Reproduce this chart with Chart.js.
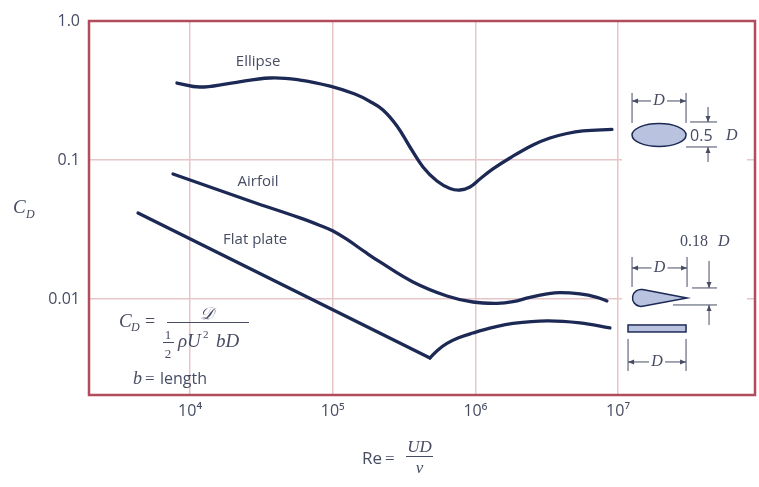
<!DOCTYPE html>
<html>
<head>
<meta charset="utf-8">
<script src="https://cdn.jsdelivr.net/npm/chart.js@4.4.1/dist/chart.umd.min.js"></script>
<style>
  html, body { margin: 0; padding: 0; background: #fff; }
  #wrap { width: 759px; height: 487px; }
</style>
</head>
<body>
<div id="wrap"><canvas id="cd-chart" width="759" height="487"></canvas></div>
<script>
// drag coefficient vs Reynolds number
const ellipseRe = [8.1e3, 1.17e4, 1.9e4, 3.64e4, 5.9e4, 9.6e4, 1.43e5, 1.826e5, 2.252e5, 2.822e5, 3.48e5, 4.293e5, 5.381e5, 6.637e5, 7.8e5, 9.167e5, 1.077e6, 1.328e6, 1.748e6, 2.533e6, 3.333e6, 4.385e6, 5.676e6, 9.065e6];
const ellipseCd = [0.358, 0.335, 0.356, 0.389, 0.376, 0.340, 0.298, 0.2636, 0.229, 0.1756, 0.124, 0.0891, 0.0706, 0.0624, 0.0608, 0.0639, 0.0730, 0.0862, 0.1034, 0.1282, 0.1439, 0.1551, 0.1617, 0.1658];

const airfoilRe = [7.6e3, 2.63e4, 5.9e4, 8.147e4, 1.005e5, 1.26e5, 1.684e5, 2.145e5, 3.653e5, 6.324e5, 9.621e5, 1.417e6, 1.834e6, 2.413e6, 3.176e6, 3.916e6, 5.408e6, 7.114e6, 8.359e6];
const airfoilCd = [0.0793, 0.0507, 0.0383, 0.0338, 0.03084, 0.02679, 0.02178, 0.01846, 0.01326, 0.01051, 0.00951, 0.00931, 0.00956, 0.01028, 0.01086, 0.0111, 0.01086, 0.01028, 0.00967];

// flat plate: laminar branch is straight, then a sharp turn at transition
const plateLamRe = [4.321e3, 4.806e5];
const plateLamCd = [0.04156, 0.003763];
const plateTurbRe = [4.806e5, 5.469e5, 6.324e5, 7.551e5, 9.621e5, 1.328e6, 1.834e6, 3.176e6, 5.408e6, 8.774e6];
const plateTurbCd = [0.003763, 0.004296, 0.004786, 0.005241, 0.005691, 0.006237, 0.006664, 0.006945, 0.00672, 0.006185];

const xTicks = [1e4, 1e5, 1e6, 1e7];
const xTickLabels = ['10⁴', '10⁵', '10⁶', '10⁷'];
const yTicks = [0.01, 0.1, 1];
const yTickLabels = ['0.01', '0.1', '1.0'];

const INK = '#1c2955';
const TEXT = '#474c63';
const GRID = '#e7c6ca';
const FRAME = '#b24c5c';
const SHAPE_FILL = '#b9c3df';
const SERIF = '"Liberation Serif", "DejaVu Serif", serif';
const SANS = '"Open Sans", "Noto Sans", sans-serif';

const toPoints = (xs, ys) => xs.map((x, i) => ({ x, y: ys[i] }));

const curve = (label, xs, ys, smooth) => ({
    label,
    data: toPoints(xs, ys),
    borderColor: INK,
    borderWidth: 3.3,
    pointRadius: 0,
    fill: false,
    tension: smooth ? 0.4 : 0,
    borderCapStyle: 'round',
    borderJoinStyle: 'round'
});

const text = (ctx, str, x, y, font, align = 'left', color = TEXT) => {
    ctx.font = font;
    ctx.fillStyle = color;
    ctx.textAlign = align;
    ctx.fillText(str, x, y);
};

const arrow = (ctx, x1, y1, x2, y2) => {
    const ang = Math.atan2(y2 - y1, x2 - x1);
    ctx.beginPath();
    ctx.moveTo(x1, y1);
    ctx.lineTo(x2, y2);
    ctx.stroke();
    ctx.beginPath();
    ctx.moveTo(x2, y2);
    ctx.lineTo(x2 - 6 * Math.cos(ang) + 2.5 * Math.sin(ang), y2 - 6 * Math.sin(ang) - 2.5 * Math.cos(ang));
    ctx.lineTo(x2 - 6 * Math.cos(ang) - 2.5 * Math.sin(ang), y2 - 6 * Math.sin(ang) + 2.5 * Math.cos(ang));
    ctx.closePath();
    ctx.fill();
};

// |<- D ->| dimension with extension lines
const dimD = (ctx, xl, xr, yArrow, yExtA, yExtB) => {
    ctx.beginPath();
    ctx.moveTo(xl, yExtA); ctx.lineTo(xl, yExtB);
    ctx.moveTo(xr, yExtA); ctx.lineTo(xr, yExtB);
    ctx.stroke();
    const mid = (xl + xr) / 2;
    arrow(ctx, mid - 8, yArrow, xl, yArrow);
    arrow(ctx, mid + 8, yArrow, xr, yArrow);
    ctx.textBaseline = 'middle';
    text(ctx, 'D', mid, yArrow, 'italic 16px ' + SERIF, 'center', TEXT);
    ctx.textBaseline = 'alphabetic';
};

const figureNotes = {
    id: 'figureNotes',
    beforeDatasetsDraw(chart) {
        // the shape sketches sit on a clear patch, grid does not run through them
        const { ctx, chartArea: a, scales: { x } } = chart;
        const x7 = x.getPixelForValue(1e7);
        ctx.save();
        ctx.fillStyle = '#fff';
        ctx.fillRect(x7 + 4, a.top + 2, a.right - 8 - (x7 + 4), a.bottom - a.top - 4);
        ctx.restore();
    },
    afterDraw(chart) {
        const { ctx, chartArea: a, scales: { x, y } } = chart;
        ctx.save();

        // frame
        ctx.strokeStyle = FRAME;
        ctx.lineWidth = 2.5;
        ctx.strokeRect(a.left, a.top, a.right - a.left, a.bottom - a.top);

        // curve names
        ctx.textBaseline = 'middle';
        text(ctx, 'Ellipse', x.getPixelForValue(3.0e4), y.getPixelForValue(0.507), '15px ' + SANS, 'center');
        text(ctx, 'Airfoil', x.getPixelForValue(3.0e4), y.getPixelForValue(0.0695), '15px ' + SANS, 'center');
        text(ctx, 'Flat plate', x.getPixelForValue(2.86e4), y.getPixelForValue(0.0265), '15px ' + SANS, 'center');
        ctx.textBaseline = 'alphabetic';

        // axis titles
        text(ctx, 'C', 13, 213, 'italic 19px ' + SERIF);
        text(ctx, 'D', 26, 218, 'italic 12px ' + SERIF);

        text(ctx, 'Re', 362, 464, '17px ' + SANS);
        text(ctx, '=', 385, 464, '17px ' + SERIF);
        ctx.strokeStyle = TEXT;
        ctx.lineWidth = 1;
        ctx.beginPath(); ctx.moveTo(406, 456.5); ctx.lineTo(433, 456.5); ctx.stroke();
        text(ctx, 'UD', 419.5, 452, 'italic 17px ' + SERIF, 'center');
        text(ctx, 'ν', 419.5, 473, 'italic 17px ' + SERIF, 'center');

        // definition of C_D, lower left of the plot
        const fx = a.left, fy = a.bottom;
        text(ctx, 'C', fx + 30, fy - 68, 'italic 19px ' + SERIF);
        text(ctx, 'D', fx + 42, fy - 64, 'italic 12px ' + SERIF);
        text(ctx, '=', fx + 56, fy - 68, '18px ' + SERIF);
        ctx.beginPath(); ctx.moveTo(fx + 78, fy - 72.5); ctx.lineTo(fx + 160, fy - 72.5); ctx.stroke();
        text(ctx, '𝒟', fx + 118, fy - 76, 'italic 17px ' + SERIF, 'center');
        text(ctx, '1', fx + 79, fy - 56, '13px ' + SERIF, 'center');
        ctx.beginPath(); ctx.moveTo(fx + 74, fy - 52.5); ctx.lineTo(fx + 85, fy - 52.5); ctx.stroke();
        text(ctx, '2', fx + 79, fy - 37, '13px ' + SERIF, 'center');
        text(ctx, 'ρU', fx + 89, fy - 48, 'italic 19px ' + SERIF);
        text(ctx, '2', fx + 114, fy - 57, '11px ' + SERIF);
        text(ctx, 'bD', fx + 127, fy - 48, 'italic 19px ' + SERIF);
        text(ctx, 'b', fx + 44, fy - 11, 'italic 18px ' + SERIF);
        text(ctx, '=', fx + 56, fy - 11, '17px ' + SERIF);
        text(ctx, 'length', fx + 71, fy - 11, '16px ' + SANS);

        // shape sketches right of 10^7
        const x7 = x.getPixelForValue(1e7);
        const y1 = y.getPixelForValue(0.1);
        const y2 = y.getPixelForValue(0.01);
        ctx.strokeStyle = TEXT;
        ctx.fillStyle = TEXT;
        ctx.lineWidth = 1;

        // ellipse
        const ex = x7 + 41, ey = y1 - 25;
        ctx.beginPath();
        ctx.ellipse(ex, ey, 27, 11.5, 0, 0, Math.PI * 2);
        ctx.fillStyle = SHAPE_FILL; ctx.fill();
        ctx.strokeStyle = INK; ctx.lineWidth = 1.5; ctx.stroke();
        ctx.strokeStyle = TEXT; ctx.fillStyle = TEXT; ctx.lineWidth = 1;
        dimD(ctx, ex - 27, ex + 27, ey - 34, ey - 42, ey - 12);
        ctx.beginPath();
        ctx.moveTo(ex + 31, ey - 13); ctx.lineTo(ex + 58, ey - 13);
        ctx.moveTo(ex + 27, ey + 12); ctx.lineTo(ex + 58, ey + 12);
        ctx.stroke();
        arrow(ctx, ex + 49, ey - 28, ex + 49, ey - 13);
        arrow(ctx, ex + 49, ey + 27, ex + 49, ey + 12);
        ctx.textBaseline = 'middle';
        text(ctx, '0.5', ex + 31, ey + 1, '16px ' + SANS);
        text(ctx, 'D', ex + 67, ey + 1, 'italic 16px ' + SERIF);

        // airfoil
        const ax = x7 + 23, ay = y2 - 1, r = 8.5, tip = x7 + 69;
        const t = Math.acos(r / (tip - ax));
        ctx.beginPath();
        ctx.moveTo(tip, ay);
        ctx.arc(ax, ay, r, -t, t, true);
        ctx.closePath();
        ctx.fillStyle = SHAPE_FILL; ctx.fill();
        ctx.strokeStyle = INK; ctx.lineWidth = 1.5; ctx.stroke();
        ctx.strokeStyle = TEXT; ctx.fillStyle = TEXT; ctx.lineWidth = 1;
        dimD(ctx, x7 + 14, x7 + 69, ay - 30, ay - 41, ay - 11);
        ctx.beginPath();
        ctx.moveTo(x7 + 74, ay - 10); ctx.lineTo(x7 + 99, ay - 10);
        ctx.moveTo(x7 + 55, ay + 7); ctx.lineTo(x7 + 99, ay + 7);
        ctx.stroke();
        arrow(ctx, x7 + 91, ay - 37, x7 + 91, ay - 10);
        arrow(ctx, x7 + 91, ay + 27, x7 + 91, ay + 7);
        text(ctx, '0.18', x7 + 62, ay - 52, '16px ' + SERIF);
        text(ctx, 'D', x7 + 100, ay - 52, 'italic 16px ' + SERIF);

        // flat plate
        const px = x7 + 10, py = y2 + 26;
        ctx.fillStyle = SHAPE_FILL;
        ctx.fillRect(px, py, 58, 7);
        ctx.strokeStyle = INK; ctx.lineWidth = 1.5;
        ctx.strokeRect(px, py, 58, 7);
        ctx.strokeStyle = TEXT; ctx.fillStyle = TEXT; ctx.lineWidth = 1;
        dimD(ctx, px, px + 58, py + 37, py + 14, py + 46);

        ctx.restore();
    }
};

new Chart(document.getElementById('cd-chart'), {
    type: 'line',
    data: {
        datasets: [
            curve('Ellipse', ellipseRe, ellipseCd, true),
            curve('Airfoil', airfoilRe, airfoilCd, true),
            curve('Flat plate', plateLamRe, plateLamCd, false),
            curve('Flat plate (turbulent)', plateTurbRe, plateTurbCd, true)
        ]
    },
    options: {
        responsive: false,
        animation: false,
        events: [],
        layout: { padding: { top: 21, right: 4, left: 0, bottom: 0 } },
        plugins: { legend: { display: false }, tooltip: { enabled: false } },
        scales: {
            x: {
                type: 'logarithmic',
                min: 10 ** 3.292,
                max: 10 ** 7.96,
                afterBuildTicks: s => { s.ticks = xTicks.map(v => ({ value: v })); },
                afterFit: s => { s.height = 92; },
                ticks: {
                    callback: v => xTickLabels[xTicks.indexOf(v)] ?? '',
                    font: { family: SANS, size: 16 },
                    color: TEXT,
                    padding: 7,
                    maxRotation: 0
                },
                grid: { color: GRID, lineWidth: 1.5, drawTicks: false },
                border: { display: false }
            },
            y: {
                type: 'logarithmic',
                min: 10 ** -2.691,
                max: 1,
                afterBuildTicks: s => { s.ticks = yTicks.map(v => ({ value: v })); },
                afterFit: s => { s.width = 89; },
                ticks: {
                    callback: v => yTickLabels[yTicks.indexOf(v)] ?? '',
                    font: { family: SANS, size: 16 },
                    color: TEXT,
                    padding: 9
                },
                grid: { color: GRID, lineWidth: 1.5, drawTicks: false },
                border: { display: false }
            }
        }
    },
    plugins: [figureNotes]
});
</script>
</body>
</html>
